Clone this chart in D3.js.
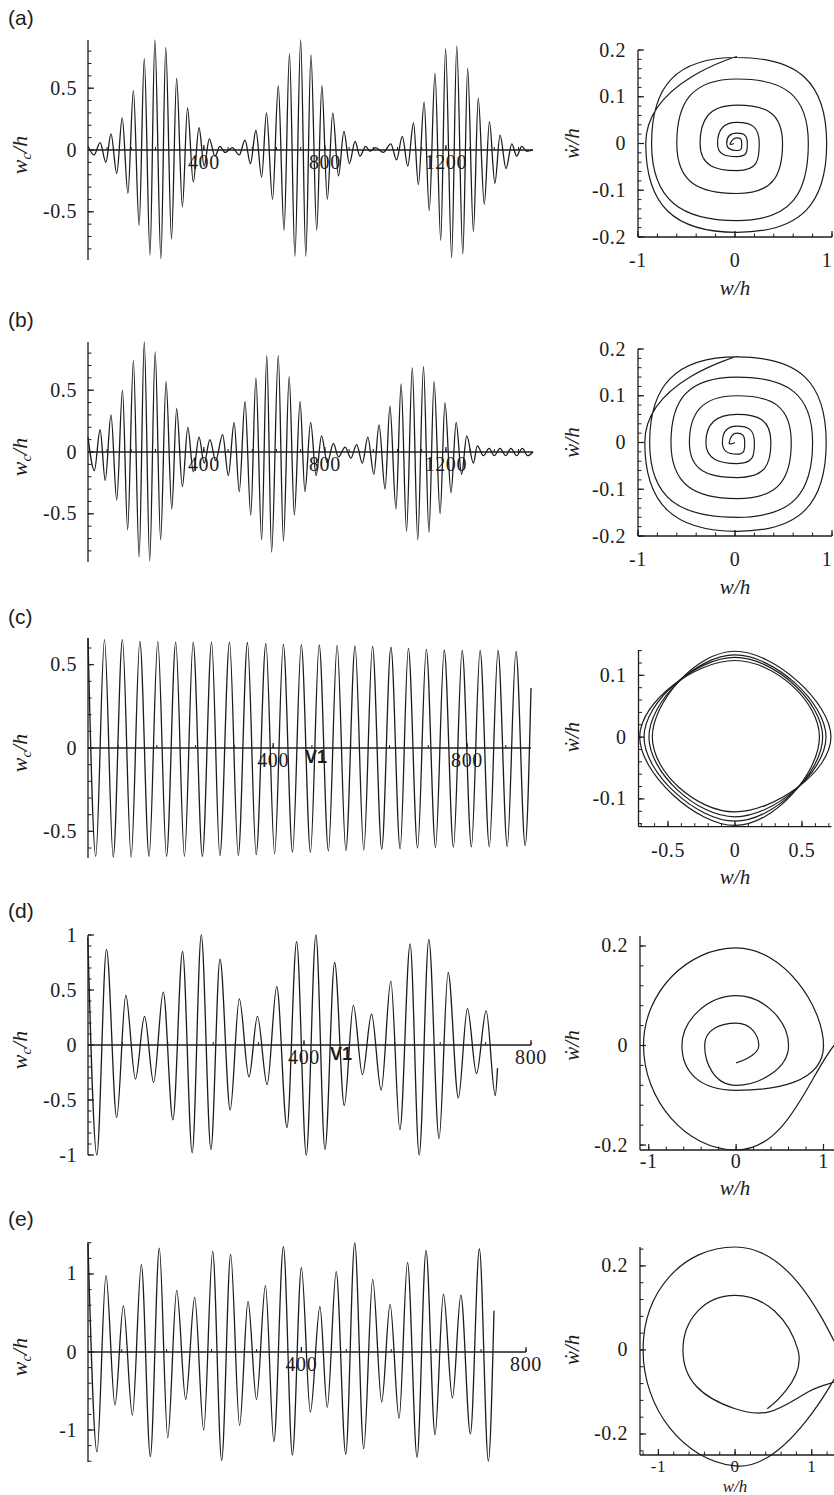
<!DOCTYPE html>
<html>
<head>
<meta charset="utf-8">
<script src="https://cdn.jsdelivr.net/npm/d3@7"></script>
<style>
  body { margin: 0; background: #fff; }
  svg { display: block; }
</style>
</head>
<body>
<svg id="fig" width="834" height="1495"></svg>
<script>
// ---- time histories: extrema (time, w_c/h) ----
const tA = [17, 37, 57, 76, 93, 112, 130, 149, 167, 186, 203, 222, 238, 258, 274, 293, 310, 329, 346, 365, 384, 401, 418, 437, 453, 470, 494, 517, 536, 554, 572, 591, 607, 627, 646, 665, 683, 701, 720, 737, 754, 773, 790, 808, 826, 845, 863, 881, 900, 916, 935, 949, 968, 993, 1018, 1037, 1056, 1074, 1093, 1109, 1128, 1145, 1164, 1183, 1199, 1219, 1236, 1256, 1272, 1291, 1307, 1327, 1344, 1362, 1379, 1399, 1418, 1434, 1451, 1467, 1488];
const wA = [0.03, -0.04, 0.06, -0.10, 0.13, -0.19, 0.26, -0.35, 0.48, -0.61, 0.74, -0.85, 0.89, -0.88, 0.83, -0.72, 0.58, -0.46, 0.34, -0.26, 0.18, -0.13, 0.09, -0.05, 0.03, -0.02, 0.02, -0.04, 0.08, -0.11, 0.16, -0.22, 0.30, -0.40, 0.52, -0.65, 0.78, -0.86, 0.89, -0.86, 0.77, -0.65, 0.52, -0.40, 0.30, -0.21, 0.15, -0.11, 0.07, -0.05, 0.03, -0.01, 0.02, -0.02, 0.05, -0.08, 0.11, -0.13, 0.22, -0.28, 0.39, -0.49, 0.62, -0.73, 0.82, -0.87, 0.84, -0.84, 0.66, -0.66, 0.42, -0.44, 0.23, -0.27, 0.12, -0.15, 0.05, -0.05, 0.03, -0.01, 0.0];

const tB = [17, 38, 57, 74, 93, 112, 131, 148, 167, 186, 203, 221, 239, 257, 275, 294, 310, 329, 347, 365, 384, 401, 420, 439, 462, 481, 500, 517, 536, 555, 572, 591, 608, 624, 646, 663, 682, 699, 718, 734, 753, 771, 789, 808, 828, 845, 867, 886, 905, 924, 942, 962, 979, 999, 1015, 1035, 1052, 1070, 1089, 1107, 1126, 1144, 1161, 1181, 1197, 1217, 1234, 1252, 1269, 1291, 1304, 1324, 1343, 1360, 1379, 1398, 1415, 1434, 1453, 1470, 1488];
const wB = [0.12, -0.15, 0.18, -0.23, 0.30, -0.39, 0.50, -0.63, 0.74, -0.85, 0.89, -0.88, 0.81, -0.71, 0.57, -0.46, 0.35, -0.28, 0.20, -0.16, 0.12, -0.09, 0.10, -0.07, 0.14, -0.19, 0.24, -0.32, 0.41, -0.51, 0.60, -0.71, 0.78, -0.81, 0.78, -0.72, 0.61, -0.51, 0.41, -0.32, 0.24, -0.19, 0.13, -0.09, 0.07, -0.04, 0.04, -0.05, 0.06, -0.09, 0.12, -0.18, 0.22, -0.30, 0.37, -0.46, 0.55, -0.64, 0.68, -0.71, 0.69, -0.65, 0.57, -0.50, 0.40, -0.33, 0.24, -0.18, 0.13, -0.09, 0.05, -0.03, 0.03, -0.03, 0.03, -0.03, 0.03, -0.03, 0.03, -0.03, 0.0];

const tC = [18, 34, 52, 70, 89, 107, 125, 144, 162, 180, 199, 217, 235, 254, 273, 290, 310, 328, 347, 365, 385, 403, 421, 440, 458, 477, 495, 514, 532, 550, 569, 587, 605, 624, 643, 662, 679, 698, 716, 735, 753, 772, 790, 809, 827, 846, 864, 883, 901, 920, 932];
const wC = [0.66, -0.65, 0.65, -0.655, 0.65, -0.655, 0.64, -0.65, 0.64, -0.65, 0.635, -0.65, 0.635, -0.65, 0.635, -0.645, 0.635, -0.645, 0.633, -0.64, 0.628, -0.635, 0.622, -0.625, 0.62, -0.625, 0.618, -0.618, 0.615, -0.615, 0.613, -0.612, 0.61, -0.607, 0.605, -0.605, 0.598, -0.6, 0.592, -0.597, 0.588, -0.595, 0.585, -0.593, 0.585, -0.592, 0.585, -0.59, 0.58, -0.585, 0.36];

const tD = [19, 35, 52, 70, 86, 103, 119, 135, 152, 169, 186, 203, 219, 236, 252, 270, 286, 303, 318, 335, 352, 370, 387, 404, 421, 437, 454, 471, 487, 503, 519, 536, 553, 569, 587, 603, 620, 638, 654, 672, 688, 704, 721, 737, 741];
const wD = [0.98, -1.0, 0.87, -0.66, 0.45, -0.31, 0.26, -0.34, 0.48, -0.68, 0.85, -0.98, 1.0, -0.95, 0.78, -0.59, 0.42, -0.29, 0.26, -0.36, 0.53, -0.75, 0.94, -1.0, 1.0, -0.95, 0.75, -0.55, 0.36, -0.27, 0.28, -0.41, 0.58, -0.77, 0.92, -1.0, 0.96, -0.85, 0.66, -0.48, 0.33, -0.26, 0.31, -0.46, -0.21];

const tE = [20, 36, 52, 68, 83, 99, 115, 131, 147, 162, 178, 194, 210, 226, 242, 258, 274, 290, 305, 320, 336, 351, 368, 384, 400, 416, 433, 446, 462, 479, 495, 511, 527, 543, 558, 574, 589, 606, 622, 638, 653, 669, 684, 701, 717, 733, 743];
const wE = [1.39, -1.28, 0.98, -0.68, 0.59, -0.81, 1.12, -1.34, 1.33, -1.10, 0.79, -0.61, 0.70, -1.0, 1.29, -1.39, 1.25, -0.94, 0.65, -0.61, 0.85, -1.15, 1.35, -1.32, 1.08, -0.77, 0.58, -0.71, 1.03, -1.31, 1.40, -1.24, 0.93, -0.64, 0.61, -0.85, 1.15, -1.35, 1.30, -1.06, 0.74, -0.59, 0.73, -1.05, 1.32, -1.40, 0.53];

// ---- phase portraits: trajectory points (w/h, w'/h) ----
const pAw = [-0.01, -0.05, 0.02, 0.069, 0.02, -0.086, 0.02, 0.127, 0.02, -0.18, 0.02, 0.25, 0.02, -0.36, 0.02, 0.49, 0.02, -0.60, 0.02, 0.756, 0.02, -0.86, 0.02, 0.945, 0.02, -0.92, 0.02];
const pAv = [0.0, 0.0, 0.012, 0.0, -0.015, 0.0, 0.022, 0.0, -0.028, 0.0, 0.045, 0.0, -0.058, 0.0, 0.082, 0.0, -0.107, 0.0, 0.138, 0.0, -0.165, 0.0, 0.184, 0.0, -0.19, 0.0, 0.186];

const pBw = [0.0, -0.06, 0.02, 0.1, 0.02, -0.13, 0.02, 0.2, 0.02, -0.3, 0.02, 0.37, 0.02, -0.47, 0.02, 0.58, 0.02, -0.66, 0.02, 0.8, 0.02, -0.88, 0.02, 0.94, 0.02, -0.93, 0.02];
const pBv = [0.0, 0.0, 0.02, 0.0, -0.025, 0.0, 0.035, 0.0, -0.045, 0.0, 0.06, 0.0, -0.075, 0.0, 0.1, 0.0, -0.12, 0.0, 0.14, 0.0, -0.16, 0.0, 0.183, 0.0, -0.19, 0.0, 0.184];

// (c) four near-periodic orbits: axis crossings of each loop
const pCright = [0.716, 0.679, 0.654, 0.63];
const pCbottom = [-0.121, -0.129, -0.136, -0.143];
const pCleft = [-0.617, -0.642, -0.679, -0.711];
const pCtop = [0.139, 0.133, 0.129, 0.124];

const pDw = [1.13, 1.12, 0.0, -1.06, 0.0, 1.0, 0.0, -0.62, 0.0, 0.6, 0.0, -0.36, 0.0, 0.26, 0.0];
const pDv = [0.04, 0.0, -0.21, 0.0, 0.196, 0.0, -0.09, 0.0, 0.10, 0.0, -0.08, 0.0, 0.045, 0.0, -0.035];

const pEw = [1.35, 0.0, -1.2, 0.0, 1.35, 0.95, 0.0, -0.68, 0.0, 0.82, 0.42];
const pEv = [-0.05, -0.276, 0.0, 0.245, 0.0, -0.1, -0.14, 0.0, 0.13, 0.0, -0.14];

// ---- ticks ----
const yMajorAB = [-0.5, 0, 0.5], yMinorAB = d3.range(-8, 9).map(k => k / 10);
const yMajorC = [-0.5, 0, 0.5], yMinorC = d3.range(-6, 7).map(k => k / 10);
const yMajorD = [-1, -0.5, 0, 0.5, 1], yMinorD = d3.range(-10, 11).map(k => k / 10);
const yMajorE = [-1, 0, 1], yMinorE = d3.range(-7, 8).map(k => k / 5);
const xLabelsAB = [400, 800, 1200], xLabelsCDE = [400, 800];

const fig = d3.select('#fig');
const INK = '#1c1c1c';
const SERIF = "Liberation Serif";
const SANS = "Liberation Sans";

function seg(g, x1, y1, x2, y2, w) {
  g.append('line').attr('x1', x1).attr('y1', y1).attr('x2', x2).attr('y2', y2)
    .attr('stroke', INK).attr('stroke-width', w || 1.2);
}
function label(g, x, y, txt, anchor, size) {
  return g.append('text').attr('x', x).attr('y', y).attr('text-anchor', anchor || 'middle')
    .attr('font-family', SERIF).attr('font-size', size || 20).attr('letter-spacing', 0.6)
    .attr('fill', INK).text(txt);
}

function timePanel(p) {
  const g = fig.append('g');
  const x = d3.scaleLinear().domain(p.xd).range([88, p.xr]);
  const y = d3.scaleLinear().domain([-p.ym, p.ym]).range([p.top + 220, p.top]);
  const y0 = y(0);

  const pts = p.t.map((t, i) => [t, p.w[i]]);
  g.append('path').datum(pts)
    .attr('d', d3.line().x(d => x(d[0])).y(d => y(d[1])).curve(d3.curveMonotoneX))
    .attr('fill', 'none').attr('stroke', INK).attr('stroke-width', 1.3);

  seg(g, 88, y(-p.ym), 88, y(p.ym), 1.3);
  p.yMinor.forEach(v => seg(g, 88, y(v), 91.5, y(v), 1));
  p.yMajor.forEach(v => {
    seg(g, 88, y(v), 94, y(v), 1.2);
    label(g, 77, y(v) + 6.5, String(v), 'end');
  });
  seg(g, 88, y0, p.xr, y0, 1.3);
  d3.range(80, p.xd[1] + 1, 80).forEach(v => seg(g, x(v), y0, x(v), y0 - 3, 1));
  p.xLabels.forEach(v => {
    seg(g, x(v), y0, x(v), y0 - 5, 1.2);
    label(g, x(v), y0 + 19, v, 'middle');
  });

  const yl = g.append('text')
    .attr('transform', `translate(27,${y0 + 5}) rotate(-90)`)
    .attr('text-anchor', 'middle').attr('font-family', SERIF).attr('font-style', 'italic')
    .attr('font-size', 22).attr('fill', INK);
  yl.append('tspan').text('w');
  yl.append('tspan').attr('font-size', 15).attr('dy', 4).text('c');
  yl.append('tspan').attr('dy', -4).text('/h');

  g.append('text').attr('x', 8).attr('y', p.labelY).attr('font-family', SANS)
    .attr('font-size', 21).attr('fill', INK).text(p.name);

  if (p.mark) {
    g.append('text').attr('x', p.mark).attr('y', y0 + 15).attr('font-family', SANS)
      .attr('font-weight', 'bold').attr('font-size', 18).attr('fill', INK).text('V1');
  }
}

function phasePanel(p) {
  const g = fig.append('g');
  const x = d3.scaleLinear().domain(p.xd).range([p.x0, p.x1]);
  const y = d3.scaleLinear().domain(p.yd).range([p.y1, p.y0]);

  p.paths.forEach(path => {
    g.append('path').datum(path.pts)
      .attr('d', d3.line().x(d => x(d[0])).y(d => y(d[1])).curve(path.curve))
      .attr('fill', 'none').attr('stroke', INK).attr('stroke-width', 1.2);
  });

  seg(g, p.x0, p.y1, p.x0, p.y0, 1.3);
  seg(g, p.x0, p.y1, p.x1, p.y1, 1.3);
  p.yMinor.forEach(v => seg(g, p.x0, y(v), p.x0 + 3.5, y(v), 1));
  p.yMajor.forEach(v => {
    seg(g, p.x0, y(v), p.x0 + 6, y(v), 1.2);
    label(g, p.x0 - 12, y(v) + 6.5, String(v), 'end');
  });
  p.xMinor.forEach(v => seg(g, x(v), p.y1, x(v), p.y1 - 3.5, 1));
  p.xMajor.forEach(v => {
    seg(g, x(v), p.y1, x(v), p.y1 - 6, 1.2);
    label(g, Math.min(x(v), 827), p.y1 + p.lab, String(v), 'middle', p.fs);
  });

  g.append('text').attr('x', 735).attr('y', p.y1 + p.tit).attr('text-anchor', 'middle')
    .attr('font-family', SERIF).attr('font-style', 'italic').attr('font-size', p.fs || 21).attr('fill', INK)
    .text('w/h');
  g.append('text').attr('transform', `translate(579,${y(0)}) rotate(-90)`)
    .attr('text-anchor', 'middle').attr('font-family', SERIF).attr('font-style', 'italic')
    .attr('font-size', 21).attr('fill', INK).text('w\u0307/h');
}

const zip = (a, b) => a.map((v, i) => [v, b[i]]);

timePanel({ name: '(a)', labelY: 25, top: 40, ym: 0.89, xd: [17, 1488], xr: 533, t: tA, w: wA,
  yMajor: yMajorAB, yMinor: yMinorAB, xLabels: xLabelsAB });
timePanel({ name: '(b)', labelY: 327, top: 342, ym: 0.89, xd: [17, 1488], xr: 533, t: tB, w: wB,
  yMajor: yMajorAB, yMinor: yMinorAB, xLabels: xLabelsAB });
timePanel({ name: '(c)', labelY: 624, top: 638, ym: 0.66, xd: [18, 932], xr: 531, t: tC, w: wC,
  yMajor: yMajorC, yMinor: yMinorC, xLabels: xLabelsCDE, mark: 305 });
timePanel({ name: '(d)', labelY: 918, top: 935, ym: 1.0, xd: [19.4, 800], xr: 531, t: tD, w: wD,
  yMajor: yMajorD, yMinor: yMinorD, xLabels: xLabelsCDE, mark: 330 });
timePanel({ name: '(e)', labelY: 1226, top: 1242, ym: 1.41, xd: [20, 800], xr: 526, t: tE, w: wE,
  yMajor: yMajorE, yMinor: yMinorE, xLabels: xLabelsCDE });

const r = (a, b, s) => d3.range(Math.round(a / s), Math.round(b / s) + 1).map(k => +(k * s).toFixed(3));

phasePanel({ x0: 638, x1: 832, y0: 50, y1: 237, xd: [-1, 1], yd: [-0.2, 0.2],
  paths: [{ pts: zip(pAw, pAv), curve: d3.curveCardinal.tension(-1.1) }],
  lab: 30, tit: 58,
  yMajor: [-0.2, -0.1, 0, 0.1, 0.2], yMinor: r(-0.2, 0.2, 0.02), xMajor: [-1, 0, 1], xMinor: r(-1, 1, 0.2) });
phasePanel({ x0: 638, x1: 832, y0: 349, y1: 536, xd: [-1, 1], yd: [-0.2, 0.2],
  paths: [{ pts: zip(pBw, pBv), curve: d3.curveCardinal.tension(-1.1) }],
  lab: 30, tit: 58,
  yMajor: [-0.2, -0.1, 0, 0.1, 0.2], yMinor: r(-0.2, 0.2, 0.02), xMajor: [-1, 0, 1], xMinor: r(-1, 1, 0.2) });
phasePanel({ x0: 638.5, x1: 831.5, y0: 650, y1: 826.7, xd: [-0.72, 0.72], yd: [-0.145, 0.141],
  paths: pCright.map((rr, i) => ({
    pts: [[rr, 0], [0, pCbottom[i]], [pCleft[i], 0], [0, pCtop[i]]],
    curve: d3.curveCardinalClosed.tension(-0.3)
  })),
  lab: 30, tit: 57,
  yMajor: [-0.1, 0, 0.1], yMinor: r(-0.14, 0.14, 0.02), xMajor: [-0.5, 0, 0.5], xMinor: r(-0.7, 0.7, 0.1) });
phasePanel({ x0: 640, x1: 834, y0: 936, y1: 1150, xd: [-1.1, 1.12], yd: [-0.21, 0.22],
  paths: [{ pts: zip(pDw, pDv), curve: d3.curveCardinal.tension(-0.6) }],
  lab: 18, tit: 45,
  yMajor: [-0.2, 0, 0.2], yMinor: r(-0.2, 0.2, 0.04), xMajor: [-1, 0, 1], xMinor: r(-1, 1, 0.2) });
phasePanel({ x0: 640, x1: 834, y0: 1247, y1: 1455, xd: [-1.24, 1.29], yd: [-0.25, 0.245],
  paths: [{ pts: zip(pEw, pEv), curve: d3.curveCardinal.tension(-0.6) }],
  lab: 17, tit: 37, fs: 17,
  yMajor: [-0.2, 0, 0.2], yMinor: r(-0.24, 0.24, 0.04), xMajor: [-1, 0, 1], xMinor: r(-1.2, 1.2, 0.2) });
</script>
</body>
</html>
